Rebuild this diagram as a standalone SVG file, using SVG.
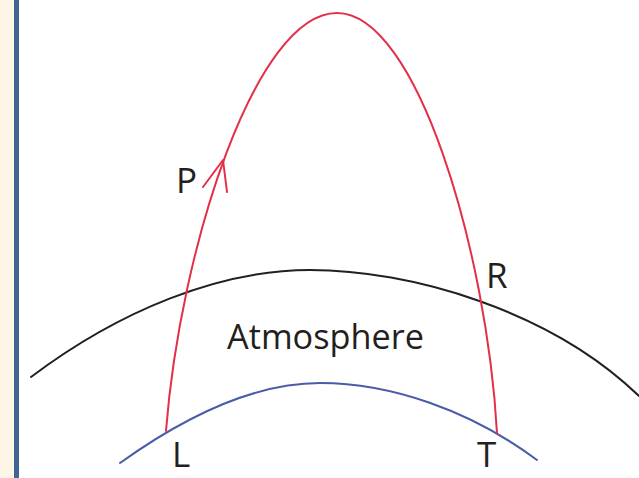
<svg xmlns="http://www.w3.org/2000/svg" width="639" height="478" viewBox="0 0 639 478">
  <style>
    .lbl { font-family: "Open Sans", "Noto Sans", "Liberation Sans", sans-serif; font-size: 35px; fill: #231F20; }
    .ln { fill: none; stroke-width: 2; stroke-linecap: round; stroke-linejoin: round; }
  </style>
  <rect x="0" y="0" width="639" height="478" fill="#FFFFFF"/>
  <rect x="0" y="0" width="14" height="478" fill="#FDF6E6"/>
  <rect x="14" y="0" width="5" height="478" fill="#3F6595"/>
  <g id="atmosphere-boundary">
    <path class="ln" stroke="#231F20" d="M31,377 C120,310 220,270 310,270 C410,270 550,310 639,396"/>
  </g>
  <g id="earth-surface">
    <path class="ln" stroke="#4A5BA8" d="M120,463 C180,420 250,383 320,383 C390,383 470,410 537,460"/>
  </g>
  <g id="trajectory">
    <path class="ln" stroke="#E2304A" d="M166,431 C180,250 255,13 337,13 C417,13 487,252 497,433"/>
    <polyline class="ln" stroke="#E2304A" points="203,187 223,160 227,192"/>
  </g>
  <g id="labels">
    <text class="lbl" x="172" y="467" font-size="32">L</text>
    <text class="lbl" x="477" y="467" font-size="32">T</text>
    <text class="lbl" x="176" y="193">P</text>
    <text class="lbl" x="486" y="288">R</text>
    <text class="lbl" x="227" y="349" textLength="197" lengthAdjust="spacingAndGlyphs">Atmosphere</text>
  </g>
</svg>
